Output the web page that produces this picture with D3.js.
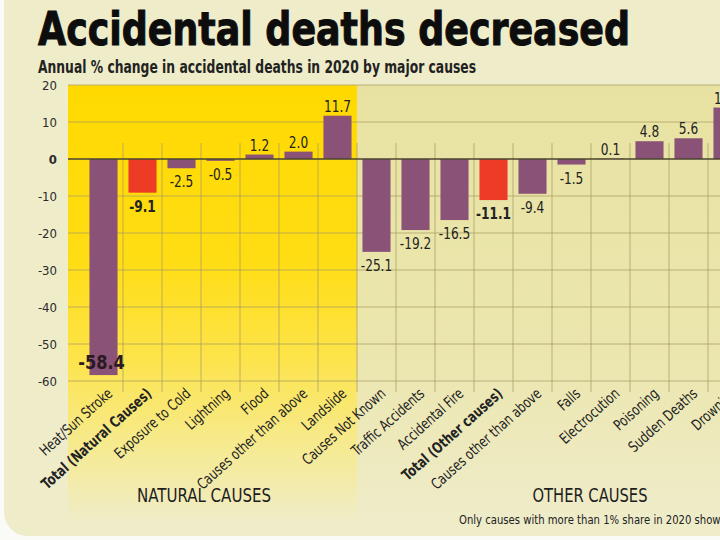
<!DOCTYPE html>
<html><head><meta charset="utf-8">
<script src="https://cdn.jsdelivr.net/npm/d3@7"></script>
<style>
html,body{margin:0;padding:0;background:#fafaf6;}
svg{display:block;}
text{font-family:"Liberation Sans Narrow","DejaVu Sans Condensed","Roboto Condensed",sans-serif;}
</style></head>
<body>
<svg id="chart" width="720" height="540"></svg>
<script>
// ---- data ----
const naturalCategories = ["Heat/Sun Stroke","Total (Natural Causes)","Exposure to Cold","Lightning","Flood","Causes other than above","Landslide"];
const naturalValues = [-58.4,-9.1,-2.5,-0.5,1.2,2.0,11.7];
const otherCategories = ["Causes Not Known","Traffic Accidents","Accidental Fire","Total (Other causes)","Causes other than above","Falls","Electrocution","Poisoning","Sudden Deaths","Drowning"];
const otherValues = [-25.1,-19.2,-16.5,-11.1,-9.4,-1.5,0.1,4.8,5.6,13.9];
const totalCategories = ["Total (Natural Causes)","Total (Other causes)"];
const yTicks = [20,10,0,-10,-20,-30,-40,-50,-60];
const groupTitles = ["NATURAL CAUSES","OTHER CAUSES"];
const titleText = "Accidental deaths decreased";
const subtitleText = "Annual % change in accidental deaths in 2020 by major causes";
const noteText = "Only causes with more than 1% share in 2020 shown";

const svg = d3.select("#chart");
const defs = svg.append("defs");

// card
svg.append("rect").attr("x",4).attr("y",-30).attr("width",760).attr("height",566)
  .attr("rx",24).attr("fill","#efecca");

// scales
const y = d3.scaleLinear().domain([-60,20]).range([381,85]);
const xNat = d3.scaleBand().domain(naturalCategories).range([84,357]).paddingInner(0.28).paddingOuter(0.14);
const xOth = d3.scaleBand().domain(otherCategories).range([357,747]).paddingInner(0.28).paddingOuter(0.14);

// region gradients
const gY = defs.append("linearGradient").attr("id","gYellow").attr("x1",0).attr("x2",0).attr("y1",0).attr("y2",1);
gY.append("stop").attr("offset","0%").attr("stop-color","#ffd900");
gY.append("stop").attr("offset","40%").attr("stop-color","#ffdd14");
gY.append("stop").attr("offset","62%").attr("stop-color","#fde44a");
gY.append("stop").attr("offset","82%").attr("stop-color","#f6ea90");
gY.append("stop").attr("offset","100%").attr("stop-color","#efecca");
const gO = defs.append("linearGradient").attr("id","gOther").attr("x1",0).attr("x2",0).attr("y1",0).attr("y2",1);
gO.append("stop").attr("offset","0%").attr("stop-color","#e8e2a2");
gO.append("stop").attr("offset","60%").attr("stop-color","#ebe6ad");
gO.append("stop").attr("offset","100%").attr("stop-color","#efecca");

svg.append("rect").attr("x",68).attr("y",y(20)).attr("width",357-68).attr("height",525-y(20)).attr("fill","url(#gYellow)");
svg.append("rect").attr("x",357).attr("y",y(20)).attr("width",720-357).attr("height",525-y(20)).attr("fill","url(#gOther)");

// horizontal gridlines
svg.append("g").selectAll("line").data(yTicks.filter(d=>d!==0)).join("line")
  .attr("x1",68).attr("x2",720).attr("y1",d=>y(d)).attr("y2",d=>y(d))
  .attr("stroke","#a89c63").attr("stroke-width",0.9).attr("opacity",0.8);

// vertical gridlines at column boundaries
const bounds = [];
naturalCategories.forEach((c,i)=>{ if(i>0) bounds.push(xNat(c) - xNat.step()*xNat.paddingInner()/2); });
bounds.push(357);
otherCategories.forEach((c,i)=>{ if(i>0) bounds.push(xOth(c) - xOth.step()*xOth.paddingInner()/2); });
svg.append("g").selectAll("line").data(bounds).join("line")
  .attr("x1",d=>d).attr("x2",d=>d).attr("y1",y(4.3)).attr("y2",392)
  .attr("stroke","#a89c63").attr("stroke-width",0.9).attr("opacity",0.8);

// y axis tick labels
svg.append("g").selectAll("text").data(yTicks).join("text")
  .attr("x",57).attr("y",d=>y(d)).attr("dy","0.35em").attr("text-anchor","end")
  .attr("font-size",13).attr("font-weight",d=>d===0?"bold":"normal").attr("fill","#2b2b2b")
  .text(d=>d);

// bars
const rows = naturalCategories.map((c,i)=>({c,v:naturalValues[i],x:xNat(c),w:xNat.bandwidth()}))
  .concat(otherCategories.map((c,i)=>({c,v:otherValues[i],x:xOth(c),w:xOth.bandwidth()})));
const isTotal = c => totalCategories.includes(c);

svg.append("g").selectAll("rect").data(rows).join("rect")
  .attr("x",d=>d.x).attr("width",d=>d.w)
  .attr("y",d=>y(Math.max(0,d.v))).attr("height",d=>Math.abs(y(d.v)-y(0)))
  .attr("fill",d=>isTotal(d.c)?"#ee3b26":"#8a5276");

// zero line
svg.append("line").attr("x1",68).attr("x2",720).attr("y1",y(0)).attr("y2",y(0))
  .attr("stroke","#4a4530").attr("stroke-width",1.3);

// value labels
svg.append("g").selectAll("text").data(rows).join("text")
  .attr("x",d=>d.x+d.w/2 - (d.v<-50?2:0))
  .attr("y",d=> d.v<-50 ? y(d.v)-6 : (d.v>=0 ? y(d.v)-4 : y(d.v)+19))
  .attr("text-anchor","middle")
  .attr("font-size",d=>d.v<-50?20:15)
  .attr("font-weight",d=>(isTotal(d.c)||d.v<-50)?"bold":"normal")
  .attr("fill",d=>d.v<-50?"#2a1a22":"#222")
  .each(function(d){
    const t = d3.select(this).text(d.v.toFixed(1));
    const len = this.getComputedTextLength();
    t.attr("textLength",len*0.9).attr("lengthAdjust","spacingAndGlyphs");
  });

// category labels (condensed)
svg.append("g").selectAll("text").data(rows).join("text")
  .attr("transform",d=>`translate(${d.x+d.w/2+10},395) rotate(-42)`)
  .attr("text-anchor","end").attr("font-size",15)
  .attr("font-weight",d=>isTotal(d.c)?"bold":"normal").attr("fill","#222")
  .each(function(d){
    const t = d3.select(this).text(d.c);
    const len = this.getComputedTextLength();
    t.attr("textLength",len*0.84).attr("lengthAdjust","spacingAndGlyphs");
  });

// group titles
svg.append("text").attr("x",204).attr("y",502).attr("text-anchor","middle")
  .attr("font-size",20).attr("font-weight",500).attr("fill","#1e1e1e").attr("textLength",134).attr("lengthAdjust","spacingAndGlyphs")
  .text(groupTitles[0]);
svg.append("text").attr("x",590).attr("y",502).attr("text-anchor","middle")
  .attr("font-size",20).attr("font-weight",500).attr("fill","#1e1e1e").attr("textLength",115).attr("lengthAdjust","spacingAndGlyphs")
  .text(groupTitles[1]);

// footnote (cut at right edge as in the reference)
svg.append("text").attr("x",459).attr("y",524).attr("font-size",13).attr("fill","#222")
  .attr("textLength",268).attr("lengthAdjust","spacingAndGlyphs")
  .text(noteText);

// title + subtitle
svg.append("text").attr("x",38).attr("y",45).attr("font-size",46).attr("font-weight","bold").attr("fill","#0d0d0d")
  .attr("stroke","#0d0d0d").attr("stroke-width",1)
  .attr("textLength",592).attr("lengthAdjust","spacingAndGlyphs").text(titleText);
svg.append("text").attr("x",38).attr("y",73).attr("font-size",17).attr("font-weight","bold").attr("fill","#222")
  .attr("textLength",438).attr("lengthAdjust","spacingAndGlyphs").text(subtitleText);
</script>
</body></html>
